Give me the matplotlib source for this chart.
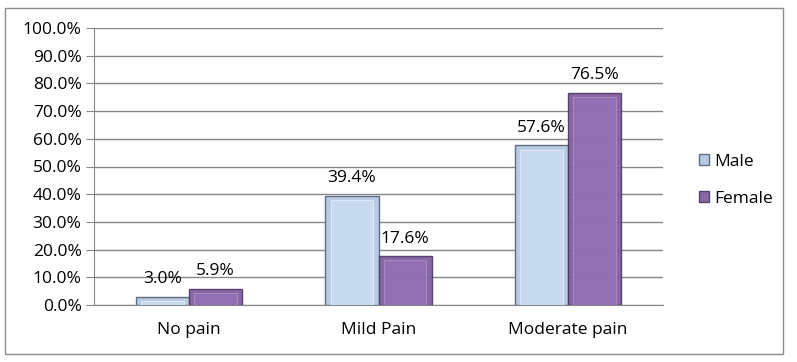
import matplotlib.pyplot as plt
from matplotlib.patches import Rectangle
import numpy as np

categories = ["No pain", "Mild Pain", "Moderate pain"]
male = [3.0, 39.4, 57.6]
female = [5.9, 17.6, 76.5]

plt.rcParams['font.family'] = ['Open Sans', 'DejaVu Sans']
fs = 12.5

fig = plt.figure(figsize=(7.97, 3.62), dpi=100)
ax = fig.add_axes([94 / 797, 57 / 362, 569 / 797, 277 / 362])

x = np.arange(len(categories))
w = 0.28

# outer frame
fig.patches.append(Rectangle((5 / 797, 8 / 362), 778 / 797, 346 / 362, transform=fig.transFigure,
                             fill=False, edgecolor='#8c8c8c', linewidth=1))

b1 = ax.bar(x - w / 2, male, w, color='#b9cbe2', edgecolor='#5f6d80', linewidth=1, label='Male', zorder=3)
b2 = ax.bar(x + w / 2, female, w, color='#7d5a9c', edgecolor='#4e3a68', linewidth=1, alpha=0.92,
            label='Female', zorder=3)

# simple bevel look: lighter inner panel
ax.bar(x - w / 2, [v - 1.5 if v > 3 else v * 0.5 for v in male], w * 0.8,
       color='#c8daf0', edgecolor='#dfe9f6', linewidth=0.8, zorder=4)
ax.bar(x + w / 2, [v - 1.5 if v > 3 else v * 0.5 for v in female], w * 0.8,
       color='#9370b5', edgecolor='#a98cc4', linewidth=0.8, alpha=0.92, zorder=4)

for bars, vals in ((b1, male), (b2, female)):
    for r, v in zip(bars, vals):
        ax.text(r.get_x() + r.get_width() / 2, v + 3.5, f"{v:.1f}%", ha='center', va='bottom',
                fontsize=fs, zorder=5)

ax.set_xlim(-0.5, 2.5)
ax.set_ylim(0, 100)
ax.set_yticks(np.arange(0, 101, 10))
ax.set_yticklabels([f"{t:.1f}%" for t in np.arange(0, 101, 10)], fontsize=fs)
ax.set_xticks(x)
ax.set_xticklabels(categories, fontsize=fs)
ax.tick_params(axis='x', length=0, pad=12)
ax.tick_params(axis='y', length=6, color='#868686', pad=3)
ax.grid(axis='y', color='#868686', linewidth=1, zorder=0)
ax.set_axisbelow(True)
for s in ['top', 'right']:
    ax.spines[s].set_visible(False)
ax.spines['left'].set_color('#868686')
ax.spines['bottom'].set_color('#868686')

ax.legend(handles=[b1, b2], loc='center left', bbox_to_anchor=(1.035, 0.45), frameon=False,
          fontsize=fs, handlelength=0.6, handleheight=0.6, handletextpad=0.3, labelspacing=1.2)

fig.savefig('out.png', dpi=100)
